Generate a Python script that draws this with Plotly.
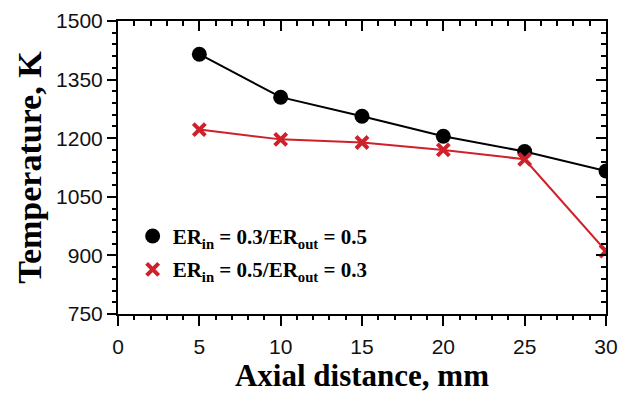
import plotly.graph_objects as go

# Axial temperature profiles for two equivalence-ratio splits
axial_mm = [5, 10, 15, 20, 25, 30]
temp_case_a = [1415, 1305, 1256, 1205, 1166, 1116]   # ER_in = 0.3 / ER_out = 0.5
temp_case_b = [1222, 1197, 1189, 1170, 1146, 911]    # ER_in = 0.5 / ER_out = 0.3

name_a = "ER<sub>in</sub> = 0.3/ER<sub>out</sub> = 0.5"
name_b = "ER<sub>in</sub> = 0.5/ER<sub>out</sub> = 0.3"

x_ticks = [0, 5, 10, 15, 20, 25, 30]
y_ticks = [750, 900, 1050, 1200, 1350, 1500]

BLACK = "#000000"
RED = "#d0202a"

fig = go.Figure()

# connecting lines (kept out of the legend)
fig.add_trace(go.Scatter(x=axial_mm, y=temp_case_a, mode="lines",
                         line=dict(color=BLACK, width=2), showlegend=False,
                         hoverinfo="skip"))
fig.add_trace(go.Scatter(x=axial_mm, y=temp_case_b, mode="lines",
                         line=dict(color=RED, width=2), showlegend=False,
                         hoverinfo="skip"))
# markers (shown in the legend)
fig.add_trace(go.Scatter(x=axial_mm, y=temp_case_a, mode="markers", name=name_a,
                         legendgroup="a",
                         marker=dict(symbol="circle", size=15, color=BLACK)))
# red crosses sit on the mirrored axis pair so the top/right ticks get drawn
fig.add_trace(go.Scatter(x=axial_mm, y=temp_case_b, mode="markers", name=name_b,
                         legendgroup="b", xaxis="x2", yaxis="y2",
                         marker=dict(symbol="x-thin", size=12, color=RED,
                                     line=dict(color=RED, width=4))))

tick_font = dict(family="Liberation Sans, Arial, sans-serif", size=21, color="#111111")
serif = "Liberation Serif, Times New Roman, serif"

fig.update_layout(
    width=618, height=393,
    margin=dict(l=118, r=12, t=21, b=79),
    paper_bgcolor="white", plot_bgcolor="white",
    showlegend=True,
    legend=dict(x=0.03, y=0.335, xanchor="left", yanchor="top",
                bgcolor="rgba(0,0,0,0)", borderwidth=0,
                font=dict(family=serif, size=21, color="black", weight="bold"),
                itemsizing="trace", tracegroupgap=3),
    xaxis=dict(range=[0, 30], tickvals=x_ticks, ticks="outside", ticklen=10,
               tickwidth=2, tickcolor="black", showline=True, linecolor="black",
               linewidth=2, mirror=True, showgrid=False, zeroline=False,
               tickfont=tick_font, automargin=False, ticklabelstandoff=3,
               title=dict(text="Axial distance, mm",
                          font=dict(family=serif, size=31, color="black",
                                    weight="bold"), standoff=7),
               minor=dict(dtick=1, ticks="outside", ticklen=4, tickwidth=2,
                          tickcolor="black", showgrid=False)),
    yaxis=dict(range=[750, 1500], tickvals=y_ticks, ticks="outside", ticklen=9,
               tickwidth=2, tickcolor="black", showline=True, linecolor="black",
               linewidth=2, mirror=True, showgrid=False, zeroline=False,
               tickfont=tick_font, automargin=False,
               title=dict(text="Temperature, K",
                          font=dict(family=serif, size=34, color="black",
                                    weight="bold"), standoff=4),
               minor=dict(dtick=30, tick0=750, ticks="outside", ticklen=4,
                          tickwidth=2, tickcolor="black", showgrid=False)),
    # inward ticks along the top and right edges of the frame
    xaxis2=dict(range=[0, 30], overlaying="x", side="top", anchor="y",
                tickvals=x_ticks, ticks="inside", ticklen=10, tickwidth=2,
                tickcolor="black", showticklabels=False, showline=False,
                showgrid=False, zeroline=False, automargin=False,
                minor=dict(dtick=1, ticks="inside", ticklen=5, tickwidth=2,
                           tickcolor="black", showgrid=False)),
    yaxis2=dict(range=[750, 1500], overlaying="y", side="right", anchor="x",
                tickvals=y_ticks, ticks="inside", ticklen=10, tickwidth=2,
                tickcolor="black", showticklabels=False, showline=False,
                showgrid=False, zeroline=False, automargin=False,
                minor=dict(dtick=30, tick0=750, ticks="inside", ticklen=5,
                           tickwidth=2, tickcolor="black", showgrid=False)),
)

fig.write_html("out.html")
